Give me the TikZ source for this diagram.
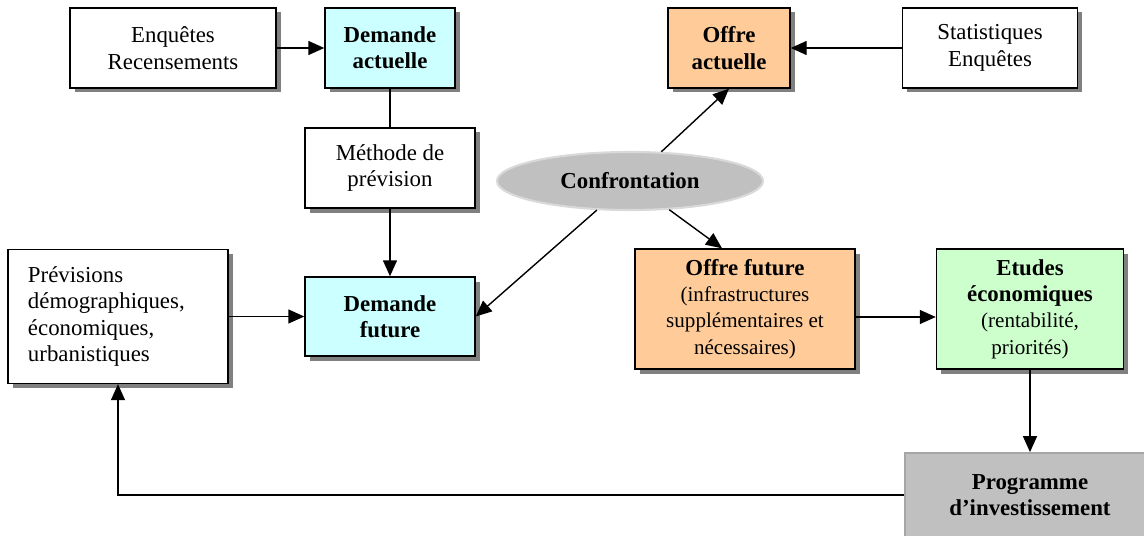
\documentclass[tikz,border=0pt]{standalone}
\usepackage{fontspec}
\setmainfont{Liberation Serif}
\usetikzlibrary{arrows.meta,shapes.geometric,shadows}
\definecolor{supplyfill}{HTML}{FFCC99}
\definecolor{demandfill}{HTML}{CCFFFF}
\definecolor{studyfill}{HTML}{CCFFCC}
\definecolor{progfill}{HTML}{C0C0C0}
\tikzset{
  >=Latex,
  card/.style={draw, line width=0.8pt, align=center, inner sep=2pt,
    font=\fontsize{13}{15}\selectfont,
    drop shadow={shadow xshift=0.09cm, shadow yshift=-0.09cm, fill=black!50, opacity=1}},
  whitebox/.style={card, fill=white},
  demand/.style={card, fill=demandfill},
  supply/.style={card, fill=supplyfill},
  study/.style={card, fill=studyfill},
  confront/.style={ellipse, fill=progfill, draw=black!15, line width=1.2pt,
    minimum width=5.32cm, minimum height=1.16cm, font=\fontsize{13}{15}\selectfont\bfseries},
  progbox/.style={fill=progfill, draw=black!35, line width=1pt, align=center,
    font=\fontsize{13}{15}\selectfont\bfseries},
  arr/.style={-{Triangle[length=3.2mm,width=2.8mm]}, line width=0.8pt},
  link/.style={line width=0.8pt}
}
\newcommand{\paren}[1]{{\fontsize{12}{14}\selectfont #1}}

\begin{document}
\begin{tikzpicture}[x=1cm,y=1cm]
\useasboundingbox (0,0) rectangle (22.88,10.7);

% ------------------------------------------------------------------
% top row: current demand and supply
% ------------------------------------------------------------------
\node[whitebox, minimum width=4.12cm, minimum height=1.6cm] (enq) at (3.46,9.74)
  {Enquêtes\\Recensements};
\node[demand, minimum width=2.6cm, minimum height=1.6cm] (demA) at (7.8,9.74)
  {\textbf{Demande}\\\textbf{actuelle}};
\node[supply, minimum width=2.44cm, minimum height=1.6cm] (offA) at (14.58,9.74)
  {\textbf{Offre}\\\textbf{actuelle}};
\node[whitebox, minimum width=3.5cm, minimum height=1.6cm] (stat) at (19.8,9.74)
  {Statistiques\\Enquêtes};

% ------------------------------------------------------------------
% forecast and confrontation
% ------------------------------------------------------------------
\node[whitebox, minimum width=3.4cm, minimum height=1.6cm] (meth) at (7.8,7.34)
  {Méthode de\\prévision};
\node[confront] (confr) at (12.6,7.08) {Confrontation};

\node[whitebox, align=left, text width=3.6cm, inner xsep=0.4cm,
  minimum height=2.68cm] (prev) at (2.36,4.37)
  {Prévisions\\démographiques,\\économiques,\\urbanistiques};
\node[demand, minimum width=3.4cm, minimum height=1.58cm] (demF) at (7.8,4.37)
  {\textbf{Demande}\\\textbf{future}};
\node[supply, minimum width=4.4cm, minimum height=2.4cm] (offF) at (14.9,4.52)
  {\textbf{Offre future}\\\paren{(infrastructures}\\\paren{supplémentaires et}\\\paren{nécessaires)}};
\node[study, minimum width=3.74cm, minimum height=2.4cm] (etud) at (20.6,4.52)
  {\textbf{Etudes}\\\textbf{économiques}\\\paren{(rentabilité,}\\\paren{priorités)}};

\node[progbox, minimum width=5.0cm, minimum height=1.68cm] (prog) at (20.6,0.8)
  {Programme\\d’investissement};

\draw[arr] (enq) -- (demA);
\draw[arr] (stat) -- (offA);
\draw[link] (demA) -- (meth);
\draw[arr] (meth) -- (demF);
\draw[arr] (prev) -- (demF);
\draw[arr] (confr) -- (offA.south);
\draw[arr] (confr) -- (demF.east);
\draw[arr] (confr) -- ([xshift=-4.6mm]offF.north);
\draw[arr] ([yshift=-1.6mm]offF.east) -- ([yshift=-1.6mm]etud.west);
\draw[arr] (etud) -- (prog);
\draw[arr] (prog.west) -| (prev.south);

\end{tikzpicture}
\end{document}
